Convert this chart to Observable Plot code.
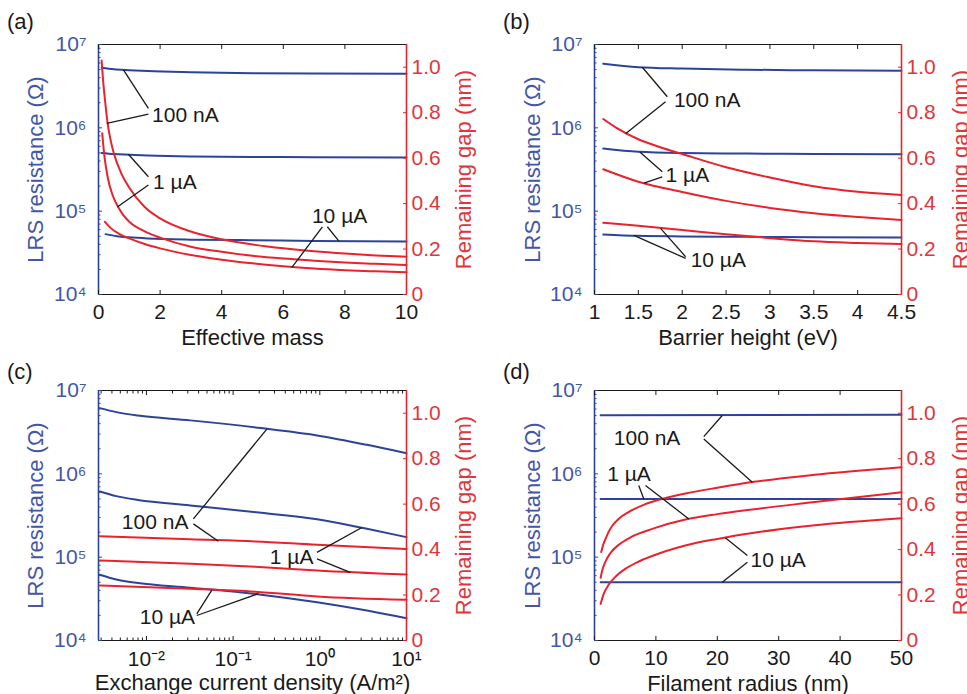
<!DOCTYPE html>
<html>
<head>
<meta charset="utf-8">
<script src="https://cdn.jsdelivr.net/npm/d3@7"></script>
<script src="https://cdn.jsdelivr.net/npm/@observablehq/plot@0.6"></script>
<style>
  html, body { margin: 0; padding: 0; background: #fff; }
  #fig { position: relative; width: 967px; height: 694px; overflow: hidden; background: #fff;
         font-family: "Liberation Sans", Arial, Helvetica, sans-serif; }
  .panel { position: absolute; }
  .panel svg { position: absolute; left: 0; top: 0; overflow: visible; }
  .tag { position: absolute; font-size: 22px; line-height: 22px; color: #1a1a1a; }
</style>
</head>
<body>
<div id="fig"></div>
<script>
// ---------------- data ----------------
const currents = ["100 nA", "1 µA", "10 µA"];
const resistTicks = [1e4, 1e5, 1e6, 1e7];
const gapTicks = [0, 0.2, 0.4, 0.6, 0.8, 1.0];

// (a) effective mass
const aMassTicks = [0, 2, 4, 6, 8, 10];
const aRes100nA = [[0.1,5.26e6],[0.5,5.05e6],[1,4.92e6],[1.6,4.8e6],[3,4.65e6],[5,4.53e6],[7,4.48e6],[10,4.46e6]];
const aRes1uA   = [[0.1,5.0e5],[0.5,4.85e5],[1,4.75e5],[1.6,4.65e5],[3,4.53e5],[5,4.48e5],[7,4.43e5],[10,4.4e5]];
const aRes10uA  = [[0.23,5.3e4],[0.6,5.0e4],[1,4.85e4],[1.6,4.7e4],[3,4.55e4],[5,4.48e4],[7,4.4e4],[10,4.34e4]];
const aGap100nA = [[0.1,1.03],[0.15,0.94],[0.2,0.87],[0.3,0.75],[0.4,0.675],[0.5,0.62],[0.75,0.53],[1,0.47],[1.5,0.385],[2,0.335],[3,0.277],[4,0.243],[5,0.22],[6,0.203],[7,0.19],[8,0.18],[9,0.172],[10,0.166]];
const aGap1uA   = [[0.12,0.71],[0.16,0.65],[0.2,0.6],[0.3,0.515],[0.45,0.44],[0.64,0.385],[0.8,0.35],[1,0.32],[1.5,0.278],[2,0.25],[3,0.21],[4,0.188],[5,0.17],[6,0.158],[7,0.149],[8,0.141],[9,0.135],[10,0.13]];
const aGap10uA  = [[0.21,0.32],[0.4,0.292],[0.7,0.265],[1,0.247],[1.5,0.222],[2,0.203],[3,0.174],[4,0.153],[5,0.137],[6,0.124],[7,0.114],[8,0.107],[9,0.102],[10,0.098]];
const aLabels = [{text:"100 nA", x:1.74, y:0.79}, {text:"1 µA", x:1.77, y:0.496}, {text:"10 µA", x:6.93, y:0.345}];
const aLeaders = [[1.62,0.819,0.81,0.988],[1.62,0.794,0.27,0.753],[1.62,0.518,0.97,0.617],[1.62,0.482,0.61,0.385],[7.27,0.298,6.28,0.119],[7.43,0.298,7.80,0.236]];

// (b) barrier height
const bBarrierTicks = [1, 1.5, 2, 2.5, 3, 3.5, 4, 4.5];
const bRes100nA = [[1.1,5.88e6],[1.5,5.35e6],[2,5.15e6],[2.75,4.98e6],[3.5,4.9e6],[4.5,4.85e6]];
const bRes1uA   = [[1.1,5.64e5],[1.5,5.15e5],[2,4.98e5],[2.75,4.91e5],[3.5,4.86e5],[4.5,4.82e5]];
const bRes10uA  = [[1.1,5.26e4],[1.5,5.06e4],[2,4.98e4],[2.75,4.92e4],[3.5,4.88e4],[4.5,4.84e4]];
const bGap100nA = [[1.1,0.772],[1.25,0.733],[1.5,0.683],[1.75,0.648],[2,0.618],[2.5,0.56],[3,0.515],[3.5,0.476],[4,0.452],[4.5,0.438]];
const bGap1uA   = [[1.1,0.551],[1.5,0.496],[2,0.451],[2.5,0.412],[3,0.381],[3.5,0.358],[4,0.341],[4.5,0.328]];
const bGap10uA  = [[1.1,0.316],[1.5,0.302],[2,0.284],[2.5,0.265],[3,0.248],[3.5,0.234],[4,0.227],[4.5,0.222]];
const bLabels = [{text:"100 nA", x:1.905, y:0.856}, {text:"1 µA", x:1.81, y:0.523}, {text:"10 µA", x:2.096, y:0.152}];
const bLeaders = [[1.83,0.87,1.545,1.0],[1.81,0.848,1.354,0.707],[1.773,0.54,1.517,0.627],[1.773,0.518,1.563,0.49],[2.039,0.166,1.753,0.291],[2.039,0.159,1.449,0.26]];

// (c) exchange current density
const cDensityTicks = [1e-2, 1e-1, 1e0, 1e1];
const cRes100nA = [[0.0029,6.15e6],[0.0045,5.5e6],[0.008,5.0e6],[0.032,4.38e6],[0.21,3.54e6],[0.93,2.89e6],[3.5,2.23e6],[10,1.77e6]];
const cRes1uA   = [[0.0029,6.15e5],[0.0045,5.4e5],[0.008,4.85e5],[0.032,4.18e5],[0.21,3.41e5],[0.93,2.85e5],[3.5,2.19e5],[10,1.74e5]];
const cRes10uA  = [[0.0029,6.15e4],[0.0045,5.4e4],[0.008,4.9e4],[0.032,4.3e4],[0.21,3.55e4],[0.93,2.88e4],[3.5,2.29e4],[10,1.85e4]];
const cGap100nA = [[0.0029,0.459],[0.032,0.445],[0.18,0.436],[0.93,0.421],[10,0.403]];
const cGap1uA   = [[0.0029,0.352],[0.032,0.338],[0.18,0.325],[0.93,0.308],[10,0.29]];
const cGap10uA  = [[0.0029,0.242],[0.032,0.228],[0.18,0.215],[0.93,0.194],[10,0.179]];
const cLabels = [{text:"100 nA", x:0.0305, y:0.52}, {text:"1 µA", x:0.845, y:0.366}, {text:"10 µA", x:0.0364, y:0.103}];
const cLeaders = [[0.0348,0.535,0.245,0.93],[0.0348,0.513,0.0676,0.437],[0.927,0.388,3.06,0.497],[0.927,0.359,2.24,0.3],[0.0381,0.117,0.0568,0.222],[0.0381,0.11,0.196,0.206]];

// (d) filament radius
const dRadiusTicks = [0, 10, 20, 30, 40, 50];
const dRes100nA = [[1,5.05e6],[50,5.1e6]];
const dRes1uA   = [[1,5.0e5],[50,5.0e5]];
const dRes10uA  = [[1,5.0e4],[50,5.0e4]];
const dGap100nA = [[1.1,0.389],[1.4,0.42],[1.8,0.447],[2.3,0.478],[2.9,0.505],[4,0.537],[5.6,0.566],[8,0.597],[11,0.623],[15,0.648],[20,0.672],[26,0.698],[35.5,0.728],[50,0.762]];
const dGap1uA   = [[1,0.276],[1.3,0.312],[1.8,0.348],[2.6,0.385],[4,0.422],[6,0.456],[9.4,0.491],[14.8,0.532],[20,0.556],[26,0.578],[35.5,0.608],[50,0.652]];
const dGap10uA  = [[1,0.161],[1.5,0.205],[2.3,0.245],[3.5,0.283],[5,0.315],[7,0.345],[9.4,0.372],[14.8,0.418],[20,0.447],[26,0.474],[35.5,0.506],[50,0.538]];
const dLabels = [{text:"100 nA", x:3.14, y:0.892}, {text:"1 µA", x:2.07, y:0.73}, {text:"10 µA", x:25.4, y:0.355}];
const dLeaders = [[17.8,0.897,20.8,0.99],[17.8,0.887,25.7,0.696],[7.21,0.682,8.03,0.623],[8.31,0.682,15.36,0.535],[24.9,0.374,21.3,0.452],[24.9,0.344,20.8,0.256]];

// ---------------- styling ----------------
const FONT = "'Liberation Sans', Arial, Helvetica, sans-serif";
const BLUE = "#2d4399", BLUE_TXT = "#4356a7", RED = "#e8232b", RED_TXT = "#e0363b", INK = "#1a1a1a";
const SUP = {"-":"⁻","0":"⁰","1":"¹","2":"²","3":"³","4":"⁴","5":"⁵","6":"⁶","7":"⁷","8":"⁸","9":"⁹"};
const pow10 = v => "10" + String(Math.round(Math.log10(v))).replace(/./g, c => SUP[c]);
const gapFmt = v => v === 0 ? "0" : v.toFixed(1);
const logMinor = (lo, hi) => d3.range(Math.floor(Math.log10(lo)), Math.ceil(Math.log10(hi)))
  .flatMap(e => d3.range(2, 10).map(k => k * 10 ** e)).filter(v => v > lo && v < hi);

const panels = [
  {tag:"(a)", left:0, top:0, width:480, height:350, margin:[44,74,56,98], xType:"linear", xDomain:[0,10],
   xTicks:aMassTicks, xMinor:[], xFormat:d => String(d), xLabel:"Effective mass",
   res:[aRes100nA,aRes1uA,aRes10uA], gap:[aGap100nA,aGap1uA,aGap10uA], labels:aLabels, leaders:aLeaders,
   labelAnchor:"start", yTitleDx:-63, rTitleDx:57, xTitleDy:43, xTickPad:14},
  {tag:"(b)", left:480, top:0, width:487, height:350, margin:[44,66,56,114], xType:"linear", xDomain:[1,4.5],
   xTicks:bBarrierTicks, xMinor:[], xFormat:d => String(d), xLabel:"Barrier height (eV)",
   res:[bRes100nA,bRes1uA,bRes10uA], gap:[bGap100nA,bGap1uA,bGap10uA], labels:bLabels, leaders:bLeaders,
   labelAnchor:"start", yTitleDx:-62, rTitleDx:59, xTitleDy:43, xTickPad:14},
  {tag:"(c)", left:0, top:350, width:480, height:344, margin:[40,74,54,98], xType:"log", xDomain:[0.0028,10],
   xTicks:cDensityTicks, xMinor:logMinor(0.0028,10), xFormat:pow10, xLabel:"Exchange current density (A/m²)",
   res:[cRes100nA,cRes1uA,cRes10uA], gap:[cGap100nA,cGap1uA,cGap10uA], labels:cLabels, leaders:cLeaders,
   labelAnchor:"end", yTitleDx:-63, rTitleDx:57, xTitleDy:42, xTickPad:15},
  {tag:"(d)", left:480, top:350, width:487, height:344, margin:[40,66,54,114], xType:"linear", xDomain:[0,50],
   xTicks:dRadiusTicks, xMinor:[], xFormat:d => String(d), xLabel:"Filament radius (nm)",
   res:[dRes100nA,dRes1uA,dRes10uA], gap:[dGap100nA,dGap1uA,dGap10uA], labels:dLabels, leaders:dLeaders,
   labelAnchor:"start", yTitleDx:-62, rTitleDx:59, xTitleDy:43, xTickPad:14}
];

const fig = document.getElementById("fig");
const toRows = series => series.flatMap((pts, i) => pts.map(([x, y]) => ({x, y, current: currents[i]})));

function render(p) {
  const host = document.createElement("div");
  host.className = "panel";
  Object.assign(host.style, {left: p.left + "px", top: p.top + "px", width: p.width + "px", height: p.height + "px"});
  fig.appendChild(host);
  const [mt, mr, mb, ml] = p.margin;
  const common = {
    width: p.width, height: p.height, marginTop: mt, marginRight: mr, marginBottom: mb, marginLeft: ml,
    style: {background: "transparent", fontFamily: FONT, fontSize: "21px", overflow: "visible"}
  };
  const xs = {type: p.xType, domain: p.xDomain};

  const leftPlot = Plot.plot({
    ...common,
    x: xs,
    y: {type: "log", domain: [1e4, 1e7]},
    marks: [
      Plot.ruleY([1e4, 1e7], {stroke: INK, strokeWidth: 1}),
      Plot.ruleX([p.xDomain[0]], {stroke: BLUE, strokeWidth: 1.6}),
      Plot.axisY({ticks: resistTicks, tickFormat: pow10, tickSize: -4, tickPadding: 16, stroke: BLUE, fill: BLUE_TXT, label: null, fontSize: 21}),
      Plot.axisY({ticks: logMinor(1e4, 1e7), tickSize: -2.5, tickFormat: () => "", stroke: BLUE, label: null}),
      Plot.axisX({ticks: p.xTicks, tickFormat: p.xFormat, tickSize: -4, tickPadding: p.xTickPad, stroke: INK, fill: INK, label: null, fontSize: 21}),
      Plot.axisX({anchor: "top", ticks: p.xTicks, tickSize: -4, tickFormat: () => "", stroke: INK, label: null}),
      ...(p.xMinor.length ? [
        Plot.axisX({ticks: p.xMinor, tickSize: -2.5, tickFormat: () => "", stroke: INK, label: null}),
        Plot.axisX({anchor: "top", ticks: p.xMinor, tickSize: -2.5, tickFormat: () => "", stroke: INK, label: null})
      ] : []),
      Plot.line(toRows(p.res), {x: "x", y: "y", z: "current", stroke: BLUE, strokeWidth: 2, curve: "monotone-x"}),
      Plot.text(["LRS resistance (Ω)"], {frameAnchor: "left", rotate: -90, dx: p.yTitleDx, textAnchor: "middle", lineAnchor: "middle", fill: BLUE_TXT, fontSize: 22}),
      Plot.text([p.xLabel], {frameAnchor: "bottom", dy: p.xTitleDy, textAnchor: "middle", lineAnchor: "middle", fill: INK, fontSize: 22})
    ]
  });

  const rightPlot = Plot.plot({
    ...common,
    x: {...xs, axis: null},
    y: {type: "linear", domain: [0, 1.1]},
    marks: [
      Plot.ruleX([p.xDomain[1]], {stroke: RED, strokeWidth: 1.6}),
      Plot.axisY({anchor: "right", ticks: gapTicks, tickFormat: gapFmt, tickSize: -4, tickPadding: 9, stroke: RED, fill: RED_TXT, label: null, fontSize: 21}),
      Plot.line(toRows(p.gap), {x: "x", y: "y", z: "current", stroke: RED, strokeWidth: 2, curve: "monotone-x"}),
      Plot.link(p.leaders, {x1: d => d[0], y1: d => d[1], x2: d => d[2], y2: d => d[3], stroke: INK, strokeWidth: 1.3}),
      Plot.text(p.labels, {x: "x", y: "y", text: "text", textAnchor: p.labelAnchor, fill: INK, fontSize: 21}),
      Plot.text(["Remaining gap (nm)"], {frameAnchor: "right", rotate: -90, dx: p.rTitleDx, textAnchor: "middle", lineAnchor: "middle", fill: RED_TXT, fontSize: 22})
    ]
  });

  host.append(leftPlot, rightPlot);

  const tag = document.createElement("div");
  tag.className = "tag";
  tag.textContent = p.tag;
  Object.assign(tag.style, {left: (p.left + (p.left ? 23 : 7)) + "px", top: (p.top + 11) + "px"});
  fig.appendChild(tag);
}

panels.forEach(render);
</script>
</body>
</html>
